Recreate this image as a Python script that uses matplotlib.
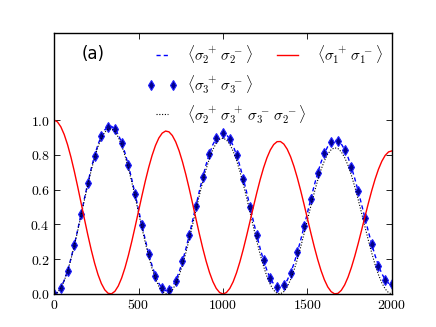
import matplotlib
matplotlib.use("Agg")
import matplotlib.pyplot as plt
from matplotlib.legend_handler import HandlerLine2D

plt.rcParams['mathtext.fontset'] = 'cm'

# fine time grid for the curves (every 20 units, 0..2000)
t = [20 * i for i in range(101)]
# marker time grid (every 40 units)
t_mark = [40 * k for k in range(51)]

# <sigma1+ sigma1->  (red solid)
sigma1 = [1.000, 0.9892, 0.9611, 0.9168, 0.8578, 0.7862, 0.7046, 0.6158, 0.5231, 0.4297,
          0.3388, 0.2536, 0.1771, 0.1118, 0.0601, 0.0238, 0.0038, 0.0010, 0.0152, 0.0459,
          0.0918, 0.1513, 0.2223, 0.3020, 0.3876, 0.4761, 0.5642, 0.6488, 0.7269, 0.7958,
          0.8529, 0.8963, 0.9245, 0.9365, 0.9320, 0.9109, 0.8743, 0.8234, 0.7600, 0.6864,
          0.6052, 0.5193, 0.4316, 0.3453, 0.2634, 0.1887, 0.1238, 0.0710, 0.0320, 0.0081,
          0.0000, 0.0081, 0.0317, 0.0701, 0.1219, 0.1851, 0.2573, 0.3360, 0.4183, 0.5014,
          0.5820, 0.6576, 0.7252, 0.7827, 0.8278, 0.8590, 0.8755, 0.8763, 0.8617, 0.8322,
          0.7888, 0.7331, 0.6671, 0.5931, 0.5137, 0.4318, 0.3502, 0.2718, 0.1993, 0.1351,
          0.0817, 0.0406, 0.0134, 0.0009, 0.0033, 0.0208, 0.0522, 0.0968, 0.1527, 0.2177,
          0.2898, 0.3661, 0.4440, 0.5206, 0.5933, 0.6594, 0.7167, 0.7630, 0.7968, 0.8168,
          0.8225]

# <sigma2+ sigma2->  (blue dashed)
sigma2 = [0.0000, 0.0093, 0.0356, 0.0779, 0.1347, 0.2040, 0.2831, 0.3693, 0.4594, 0.5504,
          0.6387, 0.7216, 0.7958, 0.8590, 0.9088, 0.9435, 0.9621, 0.9637, 0.9484, 0.9169,
          0.8703, 0.8103, 0.7389, 0.6590, 0.5731, 0.4844, 0.3960, 0.3111, 0.2326, 0.1633,
          0.1056, 0.0614, 0.0322, 0.0191, 0.0223, 0.0419, 0.0768, 0.1259, 0.1874, 0.2590,
          0.3381, 0.4219, 0.5075, 0.5917, 0.6715, 0.7442, 0.8072, 0.8584, 0.8958, 0.9182,
          0.9250, 0.9158, 0.8912, 0.8520, 0.7995, 0.7358, 0.6631, 0.5841, 0.5014, 0.4180,
          0.3370, 0.2611, 0.1930, 0.1350, 0.0892, 0.0571, 0.0397, 0.0377, 0.0510, 0.0791,
          0.1209, 0.1748, 0.2390, 0.3110, 0.3883, 0.4681, 0.5476, 0.6240, 0.6945, 0.7567,
          0.8083, 0.8477, 0.8734, 0.8846, 0.8809, 0.8625, 0.8302, 0.7851, 0.7287, 0.6633,
          0.5911, 0.5147, 0.4367, 0.3601, 0.2873, 0.2210, 0.1635, 0.1168, 0.0825, 0.0617,
          0.0550]

# <sigma3+ sigma3->  (diamond markers)
sigma3 = [0.0000, 0.0356, 0.1347, 0.2831, 0.4594, 0.6387, 0.7958, 0.9088, 0.9621, 0.9484,
          0.8703, 0.7389, 0.5731, 0.3960, 0.2326, 0.1056, 0.0322, 0.0223, 0.0768, 0.1874,
          0.3381, 0.5075, 0.6715, 0.8072, 0.8958, 0.9250, 0.8912, 0.7995, 0.6631, 0.5014,
          0.3370, 0.1930, 0.0892, 0.0397, 0.0510, 0.1209, 0.2390, 0.3883, 0.5476, 0.6945,
          0.8083, 0.8734, 0.8809, 0.8302, 0.7287, 0.5911, 0.4367, 0.2873, 0.1635, 0.0825,
          0.0550]

# <sigma2+ sigma3+ sigma3- sigma2->  (black dotted)
sigma23 = [0.0000, 0.0087, 0.0342, 0.0757, 0.1316, 0.1999, 0.2779, 0.3631, 0.4521, 0.5420,
           0.6293, 0.7112, 0.7845, 0.8468, 0.8959, 0.9299, 0.9479, 0.9490, 0.9334, 0.9016,
           0.8548, 0.7946, 0.7231, 0.6431, 0.5571, 0.4684, 0.3799, 0.2949, 0.2163, 0.1467,
           0.0887, 0.0441, 0.0145, 0.0009, 0.0036, 0.0225, 0.0568, 0.1052, 0.1659, 0.2367,
           0.3151, 0.3981, 0.4829, 0.5664, 0.6455, 0.7175, 0.7799, 0.8304, 0.8673, 0.8892,
           0.8955, 0.8859, 0.8609, 0.8213, 0.7685, 0.7044, 0.6313, 0.5519, 0.4689, 0.3851,
           0.3037, 0.2273, 0.1588, 0.1003, 0.0539, 0.0213, 0.0034, 0.0009, 0.0136, 0.0411,
           0.0824, 0.1358, 0.1994, 0.2709, 0.3478, 0.4271, 0.5062, 0.5821, 0.6522, 0.7140,
           0.7652, 0.8042, 0.8295, 0.8402, 0.8361, 0.8172, 0.7844, 0.7387, 0.6818, 0.6158,
           0.5429, 0.4658, 0.3872, 0.3098, 0.2363, 0.1693, 0.1111, 0.0636, 0.0287, 0.0073,
           0.0000]

xticks = [0, 500, 1000, 1500, 2000]
xticklabels = ['0', '500', '1000', '1500', '2000']
yticks = [0.0, 0.2, 0.4, 0.6, 0.8, 1.0]
yticklabels = ['0.0', '0.2', '0.4', '0.6', '0.8', '1.0']

lab_s2 = r'$\langle\sigma_2^{\,+}\,\sigma_2^{\,-}\rangle$'
lab_s3 = r'$\langle\sigma_3^{\,+}\,\sigma_3^{\,-}\rangle$'
lab_s23 = r'$\langle\sigma_2^{\,+}\,\sigma_3^{\,+}\,\sigma_3^{\,-}\,\sigma_2^{\,-}\rangle$'
lab_s1 = r'$\langle\sigma_1^{\,+}\,\sigma_1^{\,-}\rangle$'

fig = plt.figure(figsize=(4.36, 3.27), dpi=100)
ax = fig.add_axes([0.124, 0.101, 0.775, 0.798])

l_s2, = ax.plot(t, sigma2, color='#0000ff', lw=1.0, dashes=(3.0, 2.2), label=lab_s2)
l_s3, = ax.plot(t_mark, sigma3, ls='none', marker='d', ms=5.2, mfc='#000090',
                mec='#2020ff', mew=0.8, label=lab_s3)
l_s23, = ax.plot(t, sigma23, color='k', lw=0.8, ls=(0, (1, 1.5)), label=lab_s23)
l_s1, = ax.plot(t, sigma1, color='#ff0000', lw=1.0, label=lab_s1)

ax.set_xlim(0, 2000)
ax.set_ylim(0, 1.5)
ax.set_xticks(xticks)
ax.set_xticklabels(['$' + s + '$' for s in xticklabels], fontsize=10)
ax.set_yticks(yticks)
ax.set_yticklabels(['$' + s + '$' for s in yticklabels], fontsize=10)
ax.tick_params(direction='in', top=True, right=True, length=4, width=0.6, pad=3)
for sp in ax.spines.values():
    sp.set_linewidth(1.0)

leg1 = ax.legend(handles=[l_s2, l_s3, l_s23], loc='upper left',
                 bbox_to_anchor=(0.287, 0.962), frameon=False, fontsize=11,
                 borderpad=0, borderaxespad=0, handlelength=1.41, handletextpad=0.96,
                 labelspacing=0.45, numpoints=2,
                 handler_map={l_s3: HandlerLine2D(marker_pad=0, numpoints=2)})
ax.add_artist(leg1)
ax.legend(handles=[l_s1], loc='upper left', bbox_to_anchor=(0.659, 0.962),
          frameon=False, fontsize=11, borderpad=0, borderaxespad=0,
          handlelength=1.41, handletextpad=1.2)

ax.text(0.083, 0.921, '(a)', transform=ax.transAxes, fontsize=12,
        ha='left', va='center', family='DejaVu Sans')

fig.savefig('out.png', dpi=100)
